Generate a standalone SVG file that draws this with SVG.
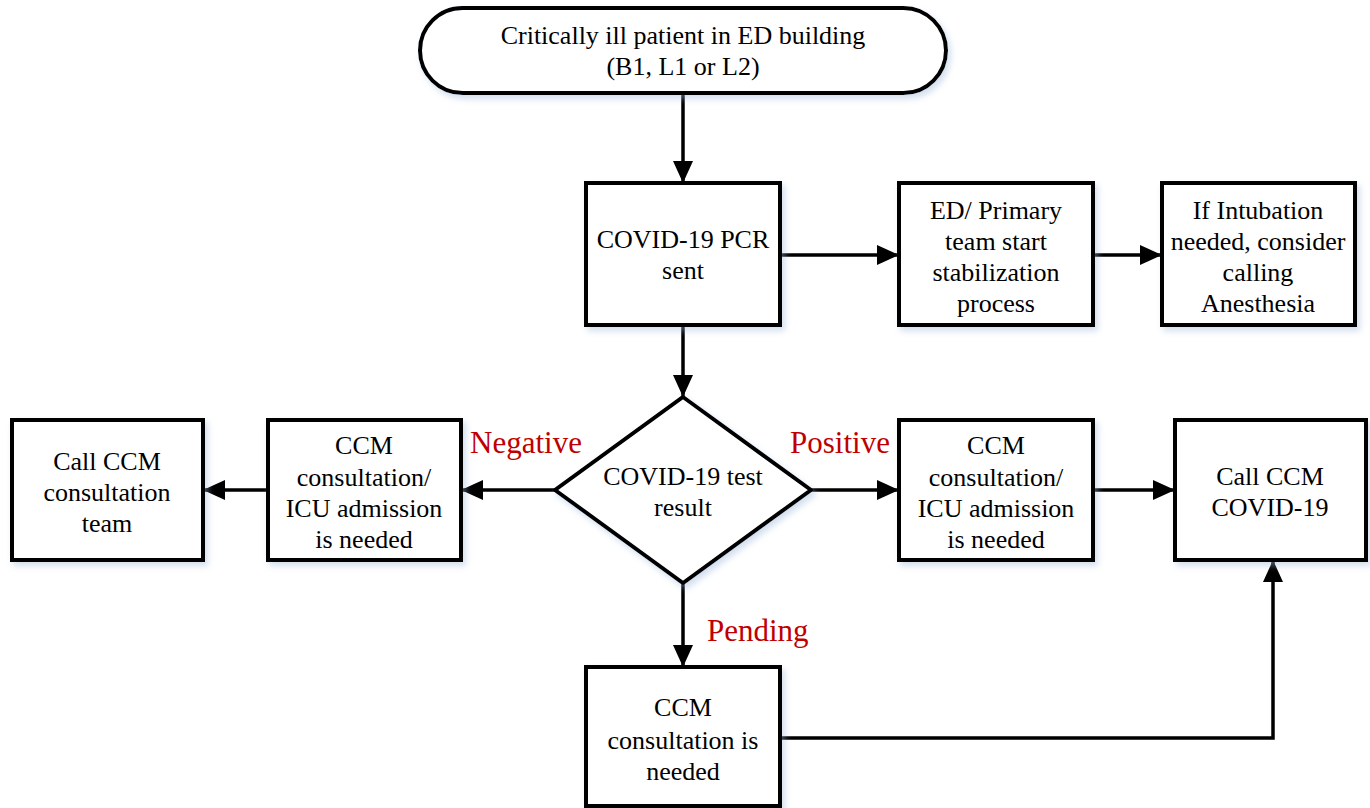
<svg xmlns="http://www.w3.org/2000/svg" width="1370" height="808" viewBox="0 0 1370 808">
<defs>
<style>
.box{fill:#fff;stroke:#000;stroke-width:4;filter:url(#sh)}
.t{font-family:"Liberation Serif","Times New Roman",serif;font-size:26px;fill:#000;text-anchor:middle}
.lbl{font-family:"Liberation Serif","Times New Roman",serif;font-size:31px;fill:#C00000}
.c{fill:none;stroke:#000;stroke-width:3.5;marker-end:url(#ah)}
.cn{fill:none;stroke:#000;stroke-width:3.5}
</style>
<filter id="sh" x="-10%" y="-10%" width="125%" height="125%">
<feDropShadow dx="3" dy="4" stdDeviation="3" flood-color="#9db8d9" flood-opacity="0.45"/>
</filter>
<marker id="ah" markerUnits="userSpaceOnUse" markerWidth="22" markerHeight="22" viewBox="0 0 22 22" refX="22" refY="11" orient="auto">
<path d="M0,1 L22,11 L0,21 Z" fill="#000"/>
</marker>
</defs>
<rect width="1370" height="808" fill="#fff"/>

<g id="connectors">
<path class="c" d="M683,93 V183"/>
<path class="c" d="M780,255 H899"/>
<path class="c" d="M1093,255 H1162"/>
<path class="c" d="M683,325 V397"/>
<path class="c" d="M555,490 H461"/>
<path class="c" d="M268,490 H203"/>
<path class="c" d="M811,490 H899"/>
<path class="c" d="M1093,490 H1175"/>
<path class="c" d="M683,583 V667"/>
<path class="c" d="M780,738 H1273 V560"/>
</g>

<g id="labels">
<text class="lbl" x="470" y="453">Negative</text>
<text class="lbl" x="790" y="453">Positive</text>
<text class="lbl" x="707" y="641">Pending</text>
</g>

<g id="start">
<rect class="box" x="420" y="8" width="526" height="85" rx="42.5" ry="42.5"/>
<text class="t" x="683" y="44">Critically ill patient in ED building</text>
<text class="t" x="683" y="75">(B1, L1 or L2)</text>
</g>

<g id="pcr">
<rect class="box" x="586" y="183" width="194" height="142"/>
<text class="t" x="683" y="248">COVID-19 PCR</text>
<text class="t" x="683" y="279">sent</text>
</g>

<g id="stabilize">
<rect class="box" x="899" y="183" width="194" height="142"/>
<text class="t" x="996" y="219">ED/ Primary</text>
<text class="t" x="996" y="250">team start</text>
<text class="t" x="996" y="281">stabilization</text>
<text class="t" x="996" y="312">process</text>
</g>

<g id="intubation">
<rect class="box" x="1162" y="183" width="193" height="142"/>
<text class="t" x="1258" y="219">If Intubation</text>
<text class="t" x="1258" y="250">needed, consider</text>
<text class="t" x="1258" y="281">calling</text>
<text class="t" x="1258" y="312">Anesthesia</text>
</g>

<g id="decision">
<polygon class="box" points="683,397 811,490 683,583 555,490"/>
<text class="t" x="683" y="485">COVID-19 test</text>
<text class="t" x="683" y="516">result</text>
</g>

<g id="neg-consult">
<rect class="box" x="268" y="420" width="193" height="140"/>
<text class="t" x="364" y="454">CCM</text>
<text class="t" x="364" y="486">consultation/</text>
<text class="t" x="364" y="517">ICU admission</text>
<text class="t" x="364" y="548">is needed</text>
</g>

<g id="call-team">
<rect class="box" x="12" y="420" width="191" height="140"/>
<text class="t" x="107" y="470">Call CCM</text>
<text class="t" x="107" y="501">consultation</text>
<text class="t" x="107" y="532">team</text>
</g>

<g id="pos-consult">
<rect class="box" x="899" y="420" width="194" height="140"/>
<text class="t" x="996" y="454">CCM</text>
<text class="t" x="996" y="486">consultation/</text>
<text class="t" x="996" y="517">ICU admission</text>
<text class="t" x="996" y="548">is needed</text>
</g>

<g id="call-covid">
<rect class="box" x="1175" y="420" width="191" height="140"/>
<text class="t" x="1270" y="485">Call CCM</text>
<text class="t" x="1270" y="516">COVID-19</text>
</g>

<g id="pending-consult">
<rect class="box" x="586" y="667" width="194" height="139"/>
<text class="t" x="683" y="716">CCM</text>
<text class="t" x="683" y="749">consultation is</text>
<text class="t" x="683" y="780">needed</text>
</g>
</svg>
